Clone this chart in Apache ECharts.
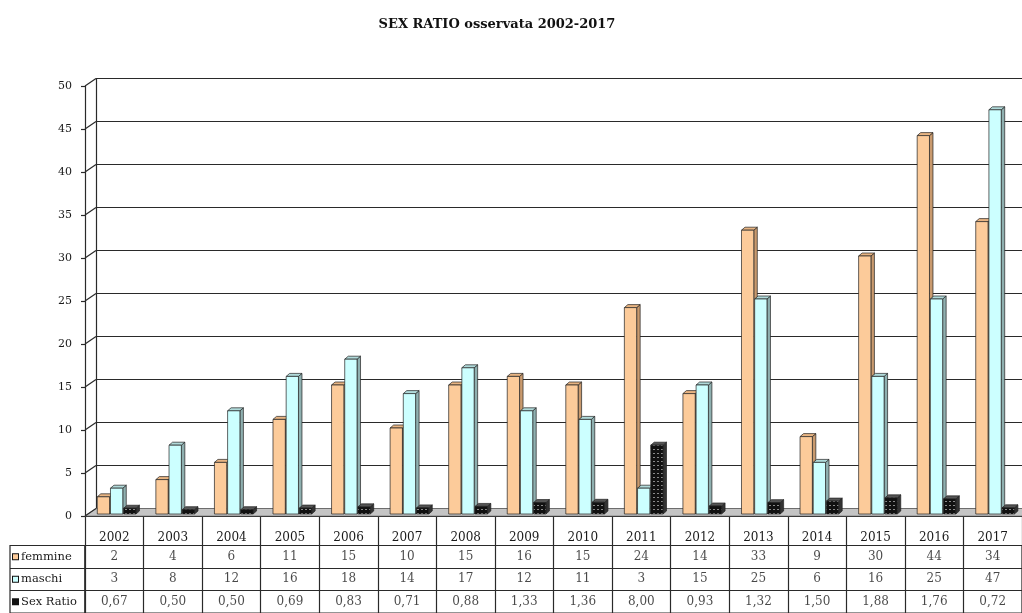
<!DOCTYPE html>
<html>
<head>
<meta charset="utf-8">
<script src="https://cdn.jsdelivr.net/npm/echarts@6/dist/echarts.min.js"></script>
<style>
html,body{margin:0;padding:0;background:#fff;}
#chart{width:1022px;height:613px;}
</style>
</head>
<body>
<div id="chart"></div>
<script>
// ---- data ----
const years = ['2002','2003','2004','2005','2006','2007','2008','2009','2010','2011','2012','2013','2014','2015','2016','2017'];
const femmine = [2,4,6,11,15,10,15,16,15,24,14,33,9,30,44,34];
const maschi = [3,8,12,16,18,14,17,12,11,3,15,25,6,16,25,47];
const sexRatio = [0.67,0.50,0.50,0.69,0.83,0.71,0.88,1.33,1.36,8.00,0.93,1.32,1.50,1.88,1.76,0.72];
const rowNames = ['femmine','maschi','Sex Ratio'];
const yTicks = [0,5,10,15,20,25,30,35,40,45,50];

// ---- style ----
const FONT = '"DejaVu Serif", "Liberation Serif", serif';
const DX = 11, DY = 7.5;      // depth of the 3D wall/floor
const BDX = 3.5, BDY = 3;     // depth of each bar
const TXT = '#1a1a1a';
const LINE = '#2a2a2a';

function makePattern(){
  const c = document.createElement('canvas');
  c.width = 4; c.height = 4;
  const g = c.getContext('2d');
  g.fillStyle = '#111'; g.fillRect(0,0,4,4);
  g.fillStyle = '#8a8a8a'; g.fillRect(1,1,2,1);
  return {image: c, repeat: 'repeat'};
}
const pattern = makePattern();

const barStyles = [
  {front:'#FCCB9A', side:'#C99A6E', top:'#E8B482'},
  {front:'#CCFFFF', side:'#8FB0B0', top:'#B0DADA'},
  {front:pattern, side:'#333', top:'#555'}
];

function makeBar(s){
  const st = barStyles[s];
  return function(params, api){
    const i = api.value(0), v = api.value(1);
    const c = api.coord([i, v]);
    const c0 = api.coord([i, 0]);
    const w = api.size([1, 0])[0];
    const x0 = c[0] - w / 2;
    const xl = x0 + w * (0.21 + s * 0.225);
    const xr = xl + w * 0.21;
    const yb = c0[1] - 2, yt = c[1] - 2;
    const stroke = {stroke:'#222', lineWidth:0.7};
    return {type:'group', children:[
      {type:'polygon', shape:{points:[[xr,yb],[xr+BDX,yb-BDY],[xr+BDX,yt-BDY],[xr,yt]]},
        style:Object.assign({fill:st.side}, stroke)},
      {type:'polygon', shape:{points:[[xl,yt],[xl+BDX,yt-BDY],[xr+BDX,yt-BDY],[xr,yt]]},
        style:Object.assign({fill:st.top}, stroke)},
      {type:'rect', shape:{x:xl, y:yt, width:xr-xl, height:yb-yt},
        style:Object.assign({fill:st.front}, stroke)}
    ]};
  };
}

function wallRender(params, api){
  const cs = params.coordSys;
  const x = cs.x, yb = cs.y + cs.height, x2 = cs.x + cs.width;
  const children = [
    {type:'polygon', shape:{points:[[x,yb],[x2,yb],[x2+DX,yb-DY],[x+DX,yb-DY]]},
      style:{fill:'#c4c4c4', stroke:'#666', lineWidth:0.6}}
  ];
  yTicks.forEach(function(t){
    const p = api.coord([0, t]);
    children.push({type:'line', shape:{x1:x, y1:p[1], x2:x+DX, y2:p[1]-DY},
      style:{stroke:LINE, lineWidth:1.2}});
  });
  return {type:'group', children:children};
}

function cellText(r, i){
  if (r === 0) return String(femmine[i]);
  if (r === 1) return String(maschi[i]);
  return sexRatio[i].toFixed(2).replace('.', ',');
}
const tableData = [];
for (let r = 0; r < rowNames.length; r++) {
  for (let i = 0; i < years.length; i++) tableData.push([i, r]);
}

const chart = echarts.init(document.getElementById('chart'), null, {renderer:'canvas'});
chart.setOption({
  animation:false,
  backgroundColor:'#fff',
  title:{text:'SEX RATIO osservata 2002-2017', left:492, top:13, textAlign:'center',
    textStyle:{fontFamily:FONT, fontSize:13, fontWeight:'bold', color:'#111'}},
  grid:[
    {left:85+DX, top:86-DY, width:938, height:430},
    {left:85, top:86, width:938, height:430},
    {left:85, top:545.5, width:938, height:68, show:true, borderColor:LINE, borderWidth:1.2},
    {left:10, top:545.5, width:75, height:68, show:true, borderColor:LINE, borderWidth:1.2}
  ],
  xAxis:[
    {gridIndex:0, type:'category', data:years, show:false},
    {gridIndex:1, type:'category', data:years,
      axisLine:{show:true, lineStyle:{color:LINE, width:1.2}},
      axisTick:{show:true, interval:0, length:29.5, lineStyle:{color:LINE, width:1.2}},
      axisLabel:{interval:0, margin:16, fontFamily:FONT, fontSize:12, color:TXT}},
    {gridIndex:2, type:'category', data:years,
      axisLine:{show:false}, axisTick:{show:false}, axisLabel:{show:false},
      splitLine:{show:true, interval:0, lineStyle:{color:LINE, width:1.2}}},
    {gridIndex:3, type:'value', show:false, min:0, max:1}
  ],
  yAxis:[
    {gridIndex:0, type:'value', min:yTicks[0], max:yTicks[yTicks.length-1], interval:yTicks[1]-yTicks[0],
      axisLine:{show:true, lineStyle:{color:LINE, width:1.2}}, axisTick:{show:false}, axisLabel:{show:false},
      splitLine:{show:true, lineStyle:{color:LINE, width:1.2}}},
    {gridIndex:1, type:'value', min:yTicks[0], max:yTicks[yTicks.length-1], interval:yTicks[1]-yTicks[0],
      axisLine:{show:true, lineStyle:{color:LINE, width:1.2}},
      axisTick:{show:true, length:4, lineStyle:{color:LINE, width:1.2}},
      axisLabel:{margin:13, fontFamily:FONT, fontSize:11, color:TXT},
      splitLine:{show:false}},
    {gridIndex:2, type:'category', data:rowNames, inverse:true,
      axisLine:{show:false}, axisTick:{show:false}, axisLabel:{show:false},
      splitLine:{show:true, interval:0, lineStyle:{color:LINE, width:1.2}}},
    {gridIndex:3, type:'category', data:rowNames, inverse:true,
      axisLine:{show:false}, axisTick:{show:false},
      splitLine:{show:true, interval:0, lineStyle:{color:LINE, width:1.2}},
      axisLabel:{inside:true, margin:3, interval:0,
        formatter:function(v, idx){ return '{k' + idx + '|}{t|' + v + '}'; },
        rich:{
          k0:{width:5, height:5, backgroundColor:'#FCCB9A', borderColor:'#111', borderWidth:1},
          k1:{width:5, height:5, backgroundColor:'#CCFFFF', borderColor:'#111', borderWidth:1},
          k2:{width:5, height:5, backgroundColor:'#111', borderColor:'#111', borderWidth:1},
          t:{fontFamily:FONT, fontSize:11.5, color:TXT, padding:[0,0,0,3]}
        }}}
  ],
  series:[
    {type:'custom', name:'wall', xAxisIndex:1, yAxisIndex:1, data:[[0,0]], renderItem:wallRender, silent:true, z:1},
    {type:'custom', name:'femmine', xAxisIndex:1, yAxisIndex:1, silent:true, z:3,
      data:femmine.map(function(v,i){return [i,v];}), renderItem:makeBar(0)},
    {type:'custom', name:'maschi', xAxisIndex:1, yAxisIndex:1, silent:true, z:3,
      data:maschi.map(function(v,i){return [i,v];}), renderItem:makeBar(1)},
    {type:'custom', name:'Sex Ratio', xAxisIndex:1, yAxisIndex:1, silent:true, z:3,
      data:sexRatio.map(function(v,i){return [i,v];}), renderItem:makeBar(2)},
    {type:'scatter', name:'table', xAxisIndex:2, yAxisIndex:2, silent:true,
      symbol:'circle', symbolSize:1, itemStyle:{color:'rgba(0,0,0,0)'},
      data:tableData,
      label:{show:true, position:'inside', fontFamily:FONT, fontSize:12, color:TXT,
        formatter:function(p){ return cellText(p.value[1], p.value[0]); }}}
  ]
});
</script>
</body>
</html>
